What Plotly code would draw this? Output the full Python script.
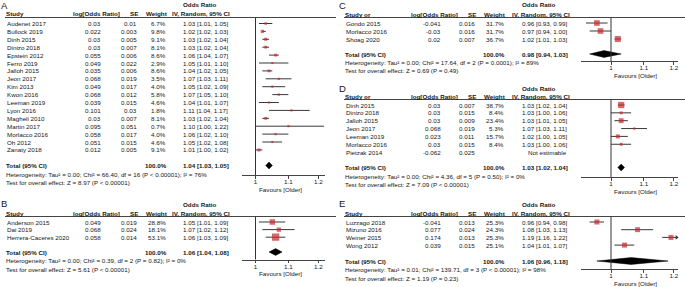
import math
import plotly.graph_objects as go

W, H = 685, 287

# ---------------- data ----------------
a_study = ["Audenet 2017", "Bullock 2019", "Dinh 2015", "Dinizo 2018", "Epstein 2012", "Ferro 2019",
           "Jalloh 2015", "Jeon 2017", "Kim 2013", "Kwon 2016", "Leeman 2019", "Lyon 2016",
           "Magheli 2010", "Martin 2017", "Morlacco 2016", "Oh 2012", "Zanaty 2018"]
a_logor = [0.03, 0.022, 0.03, 0.03, 0.055, 0.049, 0.035, 0.068, 0.049, 0.068, 0.039, 0.101,
           0.03, 0.095, 0.058, 0.051, 0.012]
a_se = [0.01, 0.003, 0.005, 0.007, 0.006, 0.022, 0.006, 0.019, 0.017, 0.012, 0.015, 0.03,
        0.007, 0.051, 0.017, 0.015, 0.005]
a_weight = [6.7, 9.8, 9.1, 8.1, 8.6, 2.9, 8.6, 3.5, 4.0, 5.8, 4.6, 1.8, 8.1, 0.7, 4.0, 4.6, 9.1]
a_or = [1.03, 1.02, 1.03, 1.03, 1.06, 1.05, 1.04, 1.07, 1.05, 1.07, 1.04, 1.11, 1.03, 1.10, 1.06, 1.05, 1.01]
a_lo = [1.01, 1.02, 1.02, 1.02, 1.04, 1.01, 1.02, 1.03, 1.02, 1.05, 1.01, 1.04, 1.02, 1.00, 1.02, 1.02, 1.00]
a_hi = [1.05, 1.03, 1.04, 1.04, 1.07, 1.10, 1.05, 1.11, 1.09, 1.10, 1.07, 1.17, 1.04, 1.22, 1.10, 1.08, 1.02]
a_total = [1.04, 1.03, 1.05]
a_het = "Heterogeneity: Tau² = 0.00; Chi² = 66.40, df = 16 (P < 0.00001); I² = 76%"
a_test = "Test for overall effect: Z = 8.97 (P < 0.00001)"

b_study = ["Anderson 2015", "Dai 2019", "Herrera-Caceres 2020"]
b_logor = [0.049, 0.068, 0.058]
b_se = [0.019, 0.024, 0.014]
b_weight = [28.8, 18.1, 53.1]
b_or = [1.05, 1.07, 1.06]
b_lo = [1.01, 1.02, 1.03]
b_hi = [1.09, 1.12, 1.09]
b_total = [1.06, 1.04, 1.08]
b_het = "Heterogeneity: Tau² = 0.00; Chi² = 0.39, df = 2 (P = 0.82); I² = 0%"
b_test = "Test for overall effect: Z = 5.61 (P < 0.00001)"

c_study = ["Gondo 2015", "Morlacco 2016", "Shoag 2020"]
c_logor = [-0.041, -0.03, 0.02]
c_se = [0.016, 0.016, 0.007]
c_weight = [31.7, 31.7, 36.7]
c_or = [0.96, 0.97, 1.02]
c_lo = [0.93, 0.94, 1.01]
c_hi = [0.99, 1.00, 1.03]
c_total = [0.98, 0.94, 1.03]
c_het = "Heterogeneity: Tau² = 0.00; Chi² = 17.64, df = 2 (P = 0.0001); I² = 89%"
c_test = "Test for overall effect: Z = 0.69 (P = 0.49)"

d_study = ["Dinh 2015", "Dinizo 2018", "Jalloh 2015", "Jeon 2017", "Leeman 2019", "Morlacco 2016", "Pietzak 2014"]
d_logor = [0.03, 0.03, 0.03, 0.068, 0.023, 0.03, -0.062]
d_se = [0.007, 0.015, 0.009, 0.019, 0.011, 0.015, 0.025]
d_weight = [38.7, 8.4, 23.4, 5.3, 15.7, 8.4, None]
d_or = [1.03, 1.03, 1.03, 1.07, 1.02, 1.03, None]
d_lo = [1.02, 1.00, 1.01, 1.03, 1.00, 1.00, None]
d_hi = [1.04, 1.06, 1.05, 1.11, 1.05, 1.06, None]
d_total = [1.03, 1.02, 1.04]
d_het = "Heterogeneity: Tau² = 0.00; Chi² = 4.36, df = 5 (P = 0.50); I² = 0%"
d_test = "Test for overall effect: Z = 7.09 (P < 0.00001)"

e_study = ["Luzzago 2018", "Mizuno 2016", "Weiner 2015", "Wong 2012"]
e_logor = [-0.041, 0.077, 0.174, 0.039]
e_se = [0.013, 0.024, 0.013, 0.015]
e_weight = [25.3, 24.3, 25.3, 25.1]
e_or = [0.96, 1.08, 1.19, 1.04]
e_lo = [0.94, 1.03, 1.16, 1.01]
e_hi = [0.98, 1.13, 1.22, 1.07]
e_total = [1.06, 0.96, 1.18]
e_het = "Heterogeneity: Tau² = 0.01; Chi² = 139.71, df = 3 (P < 0.00001); I² = 98%"
e_test = "Test for overall effect: Z = 1.19 (P = 0.23)"

tick_vals = [1, 1.1, 1.2]
tick_text = ["1", "1.1", "1.2"]
favours_label = "Favours [Older]"
total_label = "Total (95% CI)"
not_estimable = "Not estimable"

# ---------------- layout geometry (pixels) ----------------
FONT = "Liberation Sans, Arial, sans-serif"
FS = 6.25
TXT = "#161616"
RED = "#c8262a"
LINE = "#444444"
PX_PER_DEC = 794.4

cols = {
    "L": dict(title_x=0.5, study_x=6, loghdr_x=73, log_x=102, se_x=138, wt_x=166.5, ci_x=229,
              orhdr_cx=199.5, line_x0=5, line_x1=336, ax0=242, ax1=324.5, one=255.5, fav_cx=280),
    "R": dict(title_x=338.5, study_x=345, loghdr_x=411, log_x=442, se_x=476, wt_x=504.5, ci_x=568,
              orhdr_cx=539, line_x0=344, line_x1=685, ax0=581, ax1=678, one=611, fav_cx=635.5),
}

panels = [
    dict(label="A", side="L", hdr="Study", study=a_study, logor=a_logor, se=a_se, weight=a_weight,
         orv=a_or, lo=a_lo, hi=a_hi, total=a_total, het=a_het, test=a_test,
         title_y=5.5, orhdr_y=4.5, hdr_y=13.5, line_y=17.5, row0=23.5, step=7.9,
         total_y=165.5, het_y=174, test_y=182.5, axis_y=175),
    dict(label="B", side="L", hdr="Study", study=b_study, logor=b_logor, se=b_se, weight=b_weight,
         orv=b_or, lo=b_lo, hi=b_hi, total=b_total, het=b_het, test=b_test,
         title_y=204, orhdr_y=204.5, hdr_y=213, line_y=216.5, row0=222, step=7.6,
         total_y=252, het_y=260.5, test_y=269, axis_y=259.5),
    dict(label="C", side="R", hdr="Study or", study=c_study, logor=c_logor, se=c_se, weight=c_weight,
         orv=c_or, lo=c_lo, hi=c_hi, total=c_total, het=c_het, test=c_test,
         title_y=5.5, orhdr_y=4.5, hdr_y=14, line_y=17.5, row0=23, step=8.0,
         total_y=54, het_y=62.5, test_y=70.5, axis_y=61),
    dict(label="D", side="R", hdr="Study or", study=d_study, logor=d_logor, se=d_se, weight=d_weight,
         orv=d_or, lo=d_lo, hi=d_hi, total=d_total, het=d_het, test=d_test,
         title_y=88, orhdr_y=88.5, hdr_y=96.5, line_y=99.5, row0=105, step=7.85,
         total_y=167.5, het_y=176, test_y=184, axis_y=177),
    dict(label="E", side="R", hdr="Study", study=e_study, logor=e_logor, se=e_se, weight=e_weight,
         orv=e_or, lo=e_lo, hi=e_hi, total=e_total, het=e_het, test=e_test,
         title_y=203, orhdr_y=204.5, hdr_y=213, line_y=216.5, row0=222, step=7.7,
         total_y=261, het_y=269.5, test_y=278, axis_y=269),
]

fig = go.Figure()
annotations = []
shapes = []
layout_axes = {}


def fmt_ci(o, l, h):
    return f"{o:.2f} [{l:.2f}, {h:.2f}]"


for k, p in enumerate(panels, start=1):
    c = cols[p["side"]]
    xn = "x" if k == 1 else f"x{k}"
    yn = "y" if k == 1 else f"y{k}"
    xkey = "xaxis" if k == 1 else f"xaxis{k}"
    ykey = "yaxis" if k == 1 else f"yaxis{k}"
    row0, step = p["row0"], p["step"]

    def yv(py):
        return (py - row0) / step

    xr = [(c["ax0"] - c["one"]) / PX_PER_DEC, (c["ax1"] - c["one"]) / PX_PER_DEC]
    layout_axes[xkey] = dict(
        type="log", range=xr, domain=[c["ax0"] / W, c["ax1"] / W], anchor="free",
        position=(H - p["axis_y"]) / H,
        showline=True, linecolor=LINE, linewidth=1, ticks="outside", ticklen=2.5,
        tickcolor=LINE, tickwidth=1, tickvals=tick_vals, ticktext=tick_text,
        ticklabelstandoff=-2,
        tickfont=dict(family=FONT, size=FS, color=TXT), showgrid=False, zeroline=False,
        fixedrange=True,
    )
    # y axis spans the whole figure height; row index -> pixel row0 + i*step
    layout_axes[ykey] = dict(
        range=[yv(H), yv(0)], domain=[0, 1], anchor=xn, visible=False, fixedrange=True,
    )

    def ann(text, px, py, anchor="left", bold=False, size=FS, paper=False):
        annotations.append(dict(
            text=f"<b>{text}</b>" if bold else text, x=px / W, xref="paper",
            y=(H - py) / H if paper else yv(py), yref="paper" if paper else yn,
            xanchor=anchor, yanchor="middle", showarrow=False,
            font=dict(family=FONT, size=size, color=TXT), borderpad=0, borderwidth=0,
        ))

    # panel letter
    ann(p["label"], c["title_x"], p["title_y"], size=9.5, paper=True)
    # headers
    ann("Odds Ratio", c["orhdr_cx"], p["orhdr_y"], "center", True)
    ann(p["hdr"], c["study_x"], p["hdr_y"], "left", True)
    ann("log[Odds Ratio]", c["loghdr_x"], p["hdr_y"], "left", True)
    ann("SE", c["se_x"], p["hdr_y"], "right", True)
    ann("Weight", c["wt_x"], p["hdr_y"], "right", True)
    ann("IV, Random, 95% CI", c["orhdr_cx"] + 1.5, p["hdr_y"], "center", True)
    shapes.append(dict(type="line", xref="paper", yref="paper",
                       x0=c["line_x0"] / W, x1=c["line_x1"] / W,
                       y0=(H - p["line_y"]) / H, y1=(H - p["line_y"]) / H,
                       line=dict(color=LINE, width=1)))

    # study rows (text annotations use row index on the panel's y axis)
    ci_x, ci_y, mk_x, mk_y, mk_s = [], [], [], [], []
    arrow_x, arrow_y = [], []
    xmax = 10 ** xr[1]
    for i, name in enumerate(p["study"]):
        annotations.append(dict(text=name, x=c["study_x"] / W, xref="paper", y=i, yref=yn,
                                xanchor="left", yanchor="middle", showarrow=False,
                                font=dict(family=FONT, size=FS, color=TXT), borderpad=0))
        for txt, px in ((str(p["logor"][i]), c["log_x"]), (str(p["se"][i]), c["se_x"])):
            annotations.append(dict(text=txt, x=px / W, xref="paper", y=i, yref=yn,
                                    xanchor="right", yanchor="middle", showarrow=False,
                                    font=dict(family=FONT, size=FS, color=TXT), borderpad=0))
        w = p["weight"][i]
        if w is None:
            citxt = not_estimable
        else:
            citxt = fmt_ci(p["orv"][i], p["lo"][i], p["hi"][i])
            annotations.append(dict(text=f"{w:.1f}%", x=c["wt_x"] / W, xref="paper", y=i, yref=yn,
                                    xanchor="right", yanchor="middle", showarrow=False,
                                    font=dict(family=FONT, size=FS, color=TXT), borderpad=0))
            ci_x += [p["lo"][i], p["hi"][i], None]
            ci_y += [i, i, None]
            mk_x.append(p["orv"][i])
            mk_y.append(i)
            mk_s.append(max(2.2, math.sqrt(w) * 1.0))
            if p["hi"][i] > xmax:
                arrow_x.append(xmax / 1.004)
                arrow_y.append(i)
        annotations.append(dict(text=citxt, x=c["ci_x"] / W, xref="paper", y=i, yref=yn,
                                xanchor="right", yanchor="middle", showarrow=False,
                                font=dict(family=FONT, size=FS, color=TXT), borderpad=0))

    fig.add_trace(go.Scatter(x=ci_x, y=ci_y, mode="lines", xaxis=xn, yaxis=yn,
                             line=dict(color="#383838", width=1), hoverinfo="skip"))
    fig.add_trace(go.Scatter(x=mk_x, y=mk_y, mode="markers", xaxis=xn, yaxis=yn,
                             marker=dict(symbol="square", size=mk_s, color=RED, line=dict(width=0)),
                             hoverinfo="skip"))
    if arrow_x:
        fig.add_trace(go.Scatter(x=arrow_x, y=arrow_y, mode="markers", xaxis=xn, yaxis=yn,
                                 marker=dict(symbol="triangle-right", size=4, color="#383838"),
                                 cliponaxis=False, hoverinfo="skip"))

    # total row
    est, tlo, thi = p["total"]
    ty = yv(p["total_y"])
    hh = 3.4 / step
    fig.add_trace(go.Scatter(x=[tlo, est, thi, est, tlo], y=[ty, ty - hh, ty, ty + hh, ty],
                             mode="lines", fill="toself", fillcolor="black",
                             line=dict(color="black", width=0.5), xaxis=xn, yaxis=yn,
                             hoverinfo="skip"))
    ann(total_label, c["study_x"], p["total_y"], "left", True)
    ann("100.0%", c["wt_x"], p["total_y"], "right", True)
    ann(fmt_ci(est, tlo, thi), c["ci_x"], p["total_y"], "right", True)
    ann(p["het"], c["study_x"], p["het_y"], "left")
    ann(p["test"], c["study_x"], p["test_y"], "left")
    ann(favours_label, c["fav_cx"], p["axis_y"] + 14, "center")

    # vertical line of no effect
    shapes.append(dict(type="line", xref=xn, yref=yn, x0=1, x1=1,
                       y0=yv(p["line_y"]), y1=yv(p["axis_y"]),
                       line=dict(color="#333333", width=1)))

fig.update_layout(
    width=W, height=H, autosize=False, margin=dict(l=0, r=0, t=0, b=0),
    paper_bgcolor="white", plot_bgcolor="rgba(0,0,0,0)", showlegend=False,
    annotations=annotations, shapes=shapes, **layout_axes,
)

fig.write_html("out.html", config={"displayModeBar": False, "staticPlot": True},
               post_script="document.body.style.margin='0';")
